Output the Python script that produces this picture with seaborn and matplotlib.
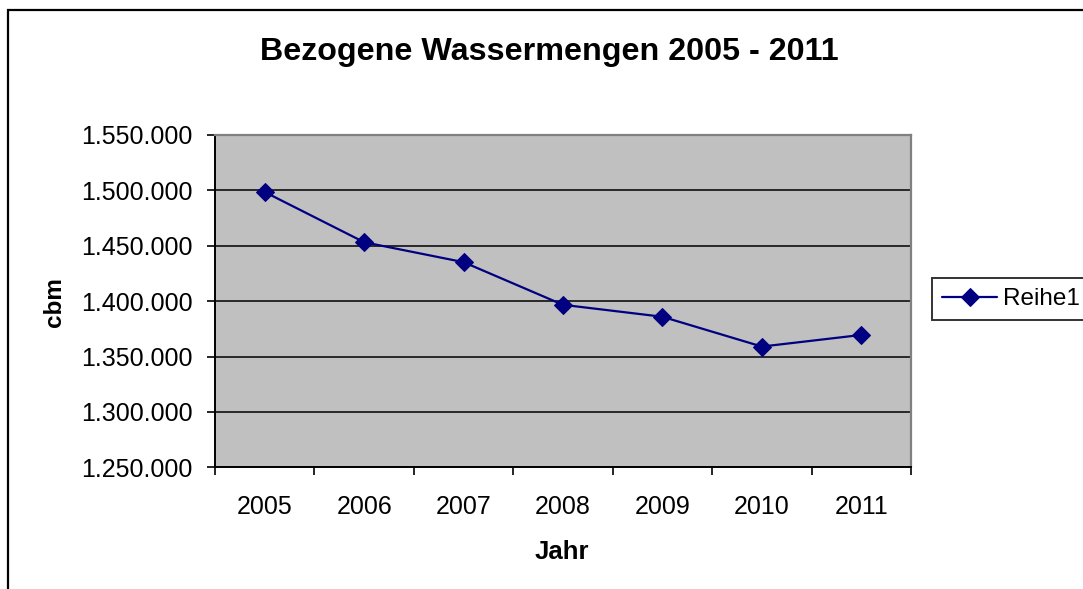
import matplotlib
matplotlib.use("Agg")
import matplotlib.pyplot as plt
from matplotlib.patches import Rectangle
from matplotlib.ticker import FuncFormatter, FixedLocator
import seaborn as sns
import pandas as pd

years = ["2005", "2006", "2007", "2008", "2009", "2010", "2011"]
values = [1498500, 1453200, 1435200, 1396700, 1385900, 1359000, 1369500]
y_ticks = [1250000, 1300000, 1350000, 1400000, 1450000, 1500000, 1550000]
series_name = "Reihe1"
title = "Bezogene Wassermengen 2005 - 2011"
x_label = "Jahr"
y_label = "cbm"

sns.set_theme(style="white")
plt.rcParams["font.family"] = ["Liberation Sans", "DejaVu Sans"]
plt.rcParams["text.color"] = "black"
plt.rcParams["xtick.color"] = "black"
plt.rcParams["ytick.color"] = "black"
plt.rcParams["axes.labelcolor"] = "black"

W, H = 1083, 589
fig = plt.figure(figsize=(W / 100, H / 100), dpi=100)
fig.patch.set_facecolor("white")

# outer chart border (left & top visible, right/bottom clipped)
fig.add_artist(Rectangle((8 / W, -0.2), 1.2, (1 - 10 / H) + 0.2,
                         transform=fig.transFigure, fill=False,
                         edgecolor="black", linewidth=1.6, zorder=0))

left, right, top, bottom = 215, 911, 135, 467.3
ax = fig.add_axes([left / W, 1 - bottom / H, (right - left) / W, (bottom - top) / H])
ax.set_facecolor("#C0C0C0")

df = pd.DataFrame({"Jahr": years, "cbm": values, "Serie": series_name})
sns.lineplot(data=df, x="Jahr", y="cbm", ax=ax, color="#000080",
             marker="D", markersize=9, markeredgecolor="#000080",
             linewidth=1.6, label=series_name, sort=False)

ax.set_ylim(y_ticks[0], y_ticks[-1])
ax.set_xlim(-0.5, len(years) - 0.5)

ax.yaxis.set_major_locator(FixedLocator(y_ticks))
ax.yaxis.set_major_formatter(FuncFormatter(lambda v, p: f"{int(v):,}".replace(",", ".")))
ax.grid(axis="y", color="black", linewidth=1.1)
ax.grid(axis="x", visible=False)
ax.set_axisbelow(True)

# category axis: ticks at boundaries, labels centred
ax.set_xticks([i - 0.5 for i in range(len(years) + 1)])
ax.set_xticklabels([])
ax.set_xticks(range(len(years)), minor=True)
ax.set_xticklabels(years, minor=True)
ax.tick_params(axis="x", which="major", direction="out", length=6, width=1.2,
               color="black", bottom=True)
ax.tick_params(axis="x", which="minor", length=0, pad=20, labelsize=18)
ax.tick_params(axis="y", direction="out", length=6, width=1.2, color="black",
               left=True, pad=10, labelsize=18)

for s in ["left", "bottom"]:
    ax.spines[s].set_color("black")
    ax.spines[s].set_linewidth(1.4)
for s in ["top", "right"]:
    ax.spines[s].set_color("#808080")
    ax.spines[s].set_linewidth(1.6)

ax.set_xlabel("")
ax.set_ylabel("")
fig.text(562 / W, 1 - 552 / H, x_label, ha="center", va="center",
         fontsize=18.5, fontweight="bold")
fig.text(55 / W, 1 - 302 / H, y_label, ha="center", va="center",
         rotation=90, fontsize=17.5, fontweight="bold")
fig.text(549 / W, 1 - 52 / H, title, ha="center", va="center",
         fontsize=23.2, fontweight="bold")

handles, labels = ax.get_legend_handles_labels()
ax.get_legend().remove()
leg = fig.legend(handles, labels, loc="upper left",
                 bbox_to_anchor=(932 / W, 1 - 278 / H),
                 bbox_transform=fig.transFigure,
                 fontsize=17.5, frameon=True, fancybox=False,
                 borderaxespad=0, borderpad=0.42, handlelength=2.26,
                 handletextpad=0.25)
leg.get_frame().set_edgecolor("black")
leg.get_frame().set_linewidth(1.4)

fig.savefig("out.png", dpi=100)
